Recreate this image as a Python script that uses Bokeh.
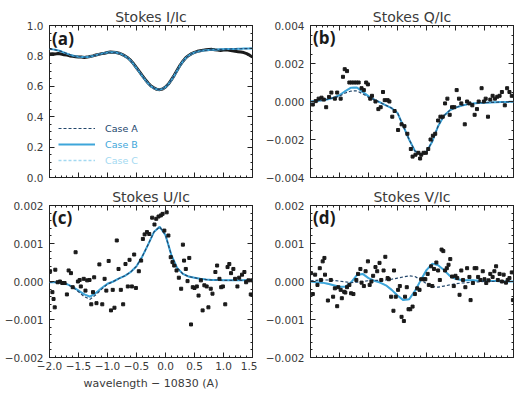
from bokeh.plotting import figure
from bokeh.models import Range1d, FixedTicker, LinearAxis, CustomJSTickFormatter, Label, Legend, LegendItem
from bokeh.layouts import column, row
from bokeh.embed import file_html
from bokeh.resources import INLINE

# ---------------- data ----------------
wl_fine = [round(-2.0 + 0.05 * i, 2) for i in range(71)]
wl_model = [round(-2.0 + 0.1 * i, 2) for i in range(36)]

obs_i = [0.812, 0.815, 0.813, 0.816, 0.812, 0.808, 0.805, 0.800, 0.797, 0.795,
         0.793, 0.792, 0.790, 0.792, 0.796, 0.800, 0.806, 0.810, 0.815, 0.818,
         0.822, 0.826, 0.824, 0.822, 0.818, 0.810, 0.800, 0.788, 0.770, 0.748,
         0.722, 0.697, 0.670, 0.645, 0.622, 0.602, 0.590, 0.580, 0.578, 0.582,
         0.595, 0.615, 0.642, 0.672, 0.705, 0.738, 0.765, 0.788, 0.803, 0.815,
         0.823, 0.830, 0.834, 0.838, 0.840, 0.842, 0.843, 0.840, 0.838, 0.836,
         0.838, 0.840, 0.837, 0.833, 0.830, 0.828, 0.825, 0.822, 0.815, 0.805,
         0.792]
model_i_b = [0.845, 0.843, 0.840, 0.835, 0.830, 0.822, 0.815, 0.808, 0.802, 0.798,
             0.795, 0.793, 0.792, 0.793, 0.796, 0.800, 0.805, 0.810, 0.815, 0.819,
             0.822, 0.824, 0.824, 0.822, 0.818, 0.810, 0.799, 0.786, 0.768, 0.746,
             0.720, 0.694, 0.667, 0.642, 0.619, 0.600, 0.588, 0.580, 0.578, 0.583,
             0.595, 0.614, 0.640, 0.670, 0.703, 0.736, 0.764, 0.786, 0.802, 0.814,
             0.822, 0.828, 0.832, 0.835, 0.837, 0.839, 0.840, 0.841, 0.842, 0.843,
             0.844, 0.845, 0.845, 0.846, 0.846, 0.847, 0.847, 0.848, 0.848, 0.849,
             0.849]
model_i_a = model_i_b
model_i_c = model_i_b

q_obs_x = [-1.96, -1.91, -1.86, -1.81, -1.77, -1.73, -1.68, -1.64, -1.58, -1.54,
           -1.48, -1.44, -1.41, -1.37, -1.33, -1.29, -1.25, -1.21, -1.17, -1.12,
           -1.08, -1.04, -1.01, -0.97, -0.94, -0.88, -0.83, -0.79, -0.75, -0.72,
           -0.67, -0.64, -0.59, -0.55, -0.49, -0.43, -0.38, -0.33, -0.27, -0.24,
           -0.19, -0.14, -0.11, -0.09, -0.05, -0.01, 0.03, 0.07, 0.11, 0.15,
           0.20, 0.24, 0.28, 0.32, 0.36, 0.40, 0.44, 0.48, 0.52, 0.56,
           0.60, 0.66, 0.70, 0.74, 0.79, 0.83, 0.87, 0.90, 0.95, 0.99,
           1.02, 1.06, 1.10, 1.14, 1.18, 1.22, 1.26, 1.30, 1.35, 1.39,
           1.43, 1.47]
q_obs = [-0.00016, 0.00002, 0.00015, 0.0002, 0.0001, -0.0003, 0.00024, 0.00047, 0.00015, 0.00047,
         0.00015, 0.0013, 0.0017, 0.0016, 0.001, 0.001, 0.001, 0.001, 0.001, 0.0007,
         0.0006, 0.001, 0.0009, 0.00015, 0.0003, 0.0, -0.0004, -0.0003, 0.0005, 0.00007,
         0.00007, 0.0, -0.0008, -0.0005, -0.0015, -0.0012, -0.0013, -0.0017, -0.0025, -0.0029,
         -0.0028, -0.0027, -0.003, -0.0028, -0.0027, -0.0027, -0.0025, -0.002, -0.0018, -0.0017,
         -0.001, -0.0008, -0.0008, -0.0001, 0.00015, -0.0007, -0.0003, -0.0003, 0.0006, 0.00015,
         -0.0001, -0.0012, 0.0, -0.0001, -0.0002, -0.0007, -0.0004, 0.0, 0.0007, 0.0,
         0.00015, -0.0008, 0.0001, 0.0003, 0.00015, 0.00025, 0.0003, 0.0005, -0.0002, 0.0007,
         0.0005, 0.0003]
model_q_b = [0.0, 0.00002, 0.00006, 0.00012, 0.0002, 0.00033, 0.00055, 0.00073, 0.00074, 0.0005,
             0.00028, 0.0001, -0.00005, -0.0002, -0.00035, -0.0006, -0.0013, -0.002, -0.0026, -0.00278,
             -0.00265, -0.0021, -0.0013, -0.00075, -0.00047, -0.00032, -0.00022, -0.00015, -0.00011, -0.00008,
             -0.00006, -0.00005, -0.00004, -0.00003, -0.00002, -0.00001]
model_q_a = [0.0, 0.00002, 0.00006, 0.00012, 0.0002, 0.00028, 0.00045, 0.00055, 0.00056, 0.0004,
             0.00022, 0.0001, -0.00005, -0.0002, -0.00035, -0.0006, -0.0013, -0.002, -0.0026, -0.00278,
             -0.00265, -0.0021, -0.0013, -0.00075, -0.00047, -0.00032, -0.00022, -0.00015, -0.00011, -0.00008,
             -0.00006, -0.00005, -0.00004, -0.00003, -0.00002, -0.00001]
model_q_c = model_q_b

u_obs_x = [-1.99, -1.95, -1.93, -1.91, -1.90, -1.86, -1.82, -1.78, -1.74, -1.70,
           -1.67, -1.63, -1.60, -1.55, -1.51, -1.48, -1.46, -1.41, -1.38, -1.35,
           -1.31, -1.28, -1.25, -1.23, -1.19, -1.14, -1.09, -1.05, -1.02, -0.98,
           -0.94, -0.91, -0.88, -0.84, -0.81, -0.77, -0.73, -0.69, -0.65, -0.62,
           -0.58, -0.54, -0.51, -0.46, -0.42, -0.39, -0.36, -0.32, -0.28, -0.23,
           -0.19, -0.16, -0.12, -0.08, -0.05, -0.02, 0.02, 0.05, 0.09, 0.12,
           0.15, 0.19, 0.23, 0.27, 0.30, 0.32, 0.35, 0.38, 0.41, 0.44,
           0.47, 0.50, 0.54, 0.57, 0.61, 0.64, 0.67, 0.71, 0.74, 0.78,
           0.81, 0.86, 0.89, 0.93, 0.96, 0.99, 1.03, 1.07, 1.10, 1.13,
           1.17, 1.20, 1.24, 1.27, 1.32, 1.36, 1.39, 1.43, 1.47, 1.49]
u_obs = [0.00027, -0.00028, -0.00046, -0.00068, 0.00031, -0.00002, 0.0, -0.00004, -0.00004, -0.00034,
         0.00029, 0.00022, -0.00015, 0.00077, 0.0, 0.00004, -0.00013, 0.00007, -0.00024, 0.00003,
         0.00004, -0.0006, -0.00028, 0.00011, -0.00057, 0.00045, -0.0006, 0.00007, -0.00024, 0.00054,
         -0.00076, -0.00022, -0.00069, 0.00108, 0.00033, -0.00022, -0.0006, 0.00046, -0.00013, 0.00057,
         -0.00013, 0.00071, -0.00017, 0.00027, 0.00055, 0.00112, 0.00124, 0.0013, 0.00125, 0.00168,
         0.0015, 0.00165, 0.00171, 0.00174, 0.00178, 0.00134, 0.00182, 0.00121, 0.00064, 0.00051,
         0.00042, 0.00029, 0.0001, -0.00019, 0.00097, 0.00055, 0.00033, 0.00001, 0.00062, -0.00113,
         -0.00015, -0.00017, -0.00013, -0.00037, 0.00003, -0.00076, -0.0001, -0.00013, -0.00068, -0.00019,
         -0.00032, 0.00025, 0.00042, 0.00007, -0.00015, -0.00013, -0.0006, 0.00038, 0.00046, 0.00022,
         0.00033, 0.00007, -0.00013, 0.0001, 0.00018, 0.00025, -0.00002, 0.00003, -0.00034, 0.00003]
model_u_b = [-0.00002, -0.00002, -0.00003, -0.00007, -0.00014, -0.00024, -0.00034, -0.0004, -0.0003, -0.00017,
             -0.00006, 0.0, 0.00008, 0.00015, 0.00025, 0.0004, 0.00066, 0.00097, 0.0013, 0.00144,
             0.00122, 0.0007, 0.00036, 0.0002, 0.00013, 0.0001, 0.00007, 0.00005, 0.00004, 0.00004,
             0.00003, 0.00003, 0.00003, 0.00003, 0.00003, 0.00003]
model_u_a = [-0.00002, -0.00002, -0.00003, -0.00007, -0.00015, -0.00027, -0.0004, -0.00047, -0.00035, -0.0002,
             -0.00007, 0.0, 0.00008, 0.00015, 0.00025, 0.0004, 0.00066, 0.00097, 0.0013, 0.00144,
             0.00122, 0.0007, 0.00036, 0.0002, 0.00013, 0.0001, 0.00007, 0.00005, 0.00004, 0.00004,
             0.00003, 0.00003, 0.00003, 0.00003, 0.00003, 0.00003]
model_u_c = model_u_b

v_obs_x = [-1.99, -1.96, -1.92, -1.88, -1.84, -1.82, -1.79, -1.76, -1.75, -1.70,
           -1.65, -1.61, -1.58, -1.54, -1.52, -1.48, -1.46, -1.42, -1.40, -1.37,
           -1.33, -1.30, -1.26, -1.21, -1.18, -1.14, -1.12, -1.08, -1.05, -1.01,
           -0.98, -0.95, -0.92, -0.88, -0.85, -0.81, -0.78, -0.74, -0.71, -0.67,
           -0.65, -0.61, -0.57, -0.56, -0.53, -0.49, -0.46, -0.43, -0.39, -0.37,
           -0.34, -0.31, -0.28, -0.24, -0.20, -0.16, -0.12, -0.09, -0.04, -0.02,
           0.02, 0.04, 0.08, 0.10, 0.13, 0.17, 0.20, 0.23, 0.26, 0.29,
           0.32, 0.35, 0.38, 0.41, 0.44, 0.47, 0.50, 0.53, 0.57, 0.60,
           0.63, 0.67, 0.70, 0.74, 0.76, 0.80, 0.83, 0.86, 0.89, 0.93,
           0.97, 1.00, 1.03, 1.07, 1.10, 1.14, 1.17, 1.20, 1.23, 1.26,
           1.30, 1.33, 1.37, 1.40, 1.43, 1.47, 1.49]
v_obs = [0.00022, -0.00033, 0.00018, -0.00009, 0.00035, 0.00004, 0.00053, 0.00062, 0.00018, -0.0005,
         0.00004, -0.0004, -0.00018, -0.00065, -0.00015, -0.00022, -0.00044, -0.00027, -0.00029, -0.00015,
         -0.00009, -0.00031, -0.00033, 0.00004, 0.0002, 0.00033, -0.00003, -0.00012, 0.00027, 0.00053,
         -0.00009, 0.0, 0.00015, 0.00038, 0.00027, 0.00049, 0.00004, 0.00029, 0.00065, 0.00009,
         0.00006, -0.0004, -0.00077, 0.00029, -0.0004, -0.00022, -0.00012, -0.00093, -0.00104, -0.0004,
         -0.00015, -0.00073, -0.00073, -0.00066, -0.00033, -0.00018, -0.00022, 0.00006, 0.00006, 0.00006,
         0.0002, -0.00009, 0.0004, -0.00012, 0.00033, 0.0005, 0.00029, 0.00004, 0.00084, 0.0008,
         0.00029, 0.00035, 0.00044, 0.00059, 0.00013, -0.00012, 0.00015, 0.00009, -0.00035, 0.00029,
         0.00004, -0.00015, 0.00035, 0.00012, -0.00049, -0.00004, 0.00035, 0.00035, 0.00012, 0.00004,
         0.00027, 0.00006, -0.00004, 0.00003, 0.0002, 0.00012, 0.00027, 0.0004, 0.00004, 0.0002,
         0.0, 0.00018, -0.00003, 0.00004, 0.00009, 0.00024, -0.00049]
model_v_b = [0.0, -0.00002, -0.00003, -0.00006, -0.0001, -0.00014, -0.00014, -0.00002, 0.00017, 0.0002,
             0.00009, 0.00002, -0.00003, -0.0001, -0.00022, -0.00037, -0.00049, -0.00047, -0.00025, 0.00003,
             0.0003, 0.00047, 0.00043, 0.0003, 0.00015, 0.00007, 0.00004, 0.00003, 0.00003, 0.00002,
             0.00002, 0.00001, 0.00001, 0.0, 0.0, 0.0]
model_v_a = [0.00002, 0.00003, 0.00004, 0.00004, 0.00003, 0.00001, -0.00001, -0.00003, -0.00002, 0.0,
             0.00002, 0.00003, 0.00003, 0.00004, 0.00006, 0.00009, 0.00012, 0.00015, 0.00013, 0.00005,
             -0.00006, -0.00013, -0.00015, -0.00012, -0.00009, -0.00006, -0.00004, -0.00003, -0.00002, -0.00001,
             0.0, 0.0, 0.0, 0.0, 0.0, 0.0]
model_v_c = model_v_b

x_ticks = [-2.0, -1.5, -1.0, -0.5, 0.0, 0.5, 1.0, 1.5]
case_names = ["Case A", "Case B", "Case C"]

# ---------------- style ----------------
COL_A = "#22466b"
COL_B = "#3ea6da"
COL_C = "#a3d9f1"
TXT = "#3a3a3a"
FONT = "DejaVu Sans"


def fmt(dec):
    return CustomJSTickFormatter(args=dict(d=dec), code="""
        const s = Math.abs(tick).toFixed(d);
        return (tick < -1e-12 ? '\u2212' : '') + s;
    """)


def blank():
    return CustomJSTickFormatter(code="return '';")


def frange(a, b, step):
    n = int(round((b - a) / step))
    return [round(a + step * i, 6) for i in range(n + 1)]


def make_fig(width, height, left, right, top, bottom, yr, yticks, ystep, ydec, title, xlabels=False):
    p = figure(width=width, height=height, x_range=Range1d(-2.0, 1.5), y_range=Range1d(*yr),
               output_backend="svg", toolbar_location=None,
               min_border_left=left, min_border_right=right, min_border_top=top, min_border_bottom=bottom)
    p.xgrid.visible = False
    p.ygrid.visible = False
    p.outline_line_color = "#222222"
    p.outline_line_width = 1
    p.background_fill_color = "white"
    p.border_fill_color = "white"
    p.title.text = title
    p.title.align = "center"
    p.title.text_font = FONT
    p.title.text_font_style = "normal"
    p.title.text_font_size = "14px"
    p.title.text_color = TXT
    p.title.standoff = 2

    xt = FixedTicker(ticks=x_ticks, minor_ticks=frange(-2.0, 1.5, 0.1))
    yt = FixedTicker(ticks=yticks, minor_ticks=frange(yr[0], yr[1], ystep))

    xa = p.xaxis[0]
    xa.ticker = xt
    ya = p.yaxis[0]
    ya.ticker = yt
    ya.formatter = fmt(ydec)
    xa.formatter = fmt(1)
    top_ax = LinearAxis(ticker=xt, formatter=blank())
    right_ax = LinearAxis(ticker=yt, formatter=blank())
    p.add_layout(top_ax, "above")
    p.add_layout(right_ax, "right")
    for ax in (xa, ya, top_ax, right_ax):
        ax.axis_line_color = None
        ax.major_tick_in = 5
        ax.major_tick_out = 0
        ax.minor_tick_in = 2
        ax.minor_tick_out = 0
        ax.major_tick_line_color = "#222222"
        ax.minor_tick_line_color = "#222222"
        ax.major_label_text_font = FONT
        ax.major_label_text_font_size = "10.5px"
        ax.major_label_text_color = TXT
        ax.major_label_standoff = 6
    for ax in (top_ax, right_ax):
        ax.major_label_standoff = 0
    if not xlabels:
        xa.formatter = blank()
        xa.major_label_standoff = 0
    else:
        xa.major_label_standoff = 4
        xa.axis_label = "wavelength \u2212 10830 (A)"
        xa.axis_label_text_font = FONT
        xa.axis_label_text_font_style = "normal"
        xa.axis_label_text_font_size = "11px"
        xa.axis_label_text_color = TXT
        xa.axis_label_standoff = 4
    return p


def panel_label(p, txt, y):
    p.add_layout(Label(x=-1.955, y=y, text=txt, text_font="Open Sans", text_font_size="17px",
                       text_font_style="bold", text_color="#1a1a1a", text_baseline="top", text_align="left"))


def models(p, xs, a, b, c):
    rc = p.line(xs, c, line_color=COL_C, line_width=1.5, line_dash="3 2")
    rb = p.line(xs, b, line_color=COL_B, line_width=2)
    ra = p.line(xs, a, line_color=COL_A, line_width=1.2, line_dash="3 2")
    return ra, rb, rc


# (a) Stokes I
pa = make_fig(257, 184, 49, 5, 25, 7, (0.0, 1.0), [0.0, 0.2, 0.4, 0.6, 0.8, 1.0], 0.05, 1, "Stokes I/Ic")
pa.line(wl_fine, obs_i, line_color="#1a1a1a", line_width=3)
ra, rb, rc = models(pa, wl_fine, model_i_a, model_i_b, model_i_c)
panel_label(pa, "(a)", 0.99)
for r, name, col, yoff in ((ra, case_names[0], COL_A, 43), (rb, case_names[1], COL_B, 27), (rc, case_names[2], COL_C, 11)):
    lg = Legend(items=[LegendItem(label=name, renderers=[r])], location=(9, yoff),
                glyph_width=37, glyph_height=12, label_standoff=10, padding=0, margin=0,
                spacing=0, label_height=12, border_line_alpha=0, background_fill_alpha=0,
                label_text_color=col, label_text_font=FONT, label_text_font_size="9.5px")
    pa.add_layout(lg)

# (b) Stokes Q
pb = make_fig(258, 184, 53, 2, 25, 7, (-0.004, 0.004), [-0.004, -0.002, 0.0, 0.002, 0.004], 0.0005, 3, "Stokes Q/Ic")
models(pb, wl_model, model_q_a, model_q_b, model_q_c)
pb.scatter(q_obs_x, q_obs, marker="square", size=3, color="#1a1a1a")
panel_label(pb, "(b)", 0.00396)

# (c) Stokes U
pc = make_fig(257, 210, 49, 5, 21, 37, (-0.002, 0.002), [-0.002, -0.001, 0.0, 0.001, 0.002], 0.0002, 3, "Stokes U/Ic", xlabels=True)
models(pc, wl_model, model_u_a, model_u_b, model_u_c)
pc.scatter(u_obs_x, u_obs, marker="square", size=3, color="#1a1a1a")
panel_label(pc, "(c)", 0.00198)

# (d) Stokes V
pd = make_fig(258, 210, 53, 2, 21, 37, (-0.002, 0.002), [-0.002, -0.001, 0.0, 0.001, 0.002], 0.0002, 3, "Stokes V/Ic")
models(pd, wl_model, model_v_a, model_v_b, model_v_c)
pd.scatter(v_obs_x, v_obs, marker="square", size=3, color="#1a1a1a")
panel_label(pd, "(d)", 0.00198)

layout = column(row(pa, pb, spacing=0), row(pc, pd, spacing=0), spacing=0)
open("out.html", "w").write(file_html(layout, INLINE))
